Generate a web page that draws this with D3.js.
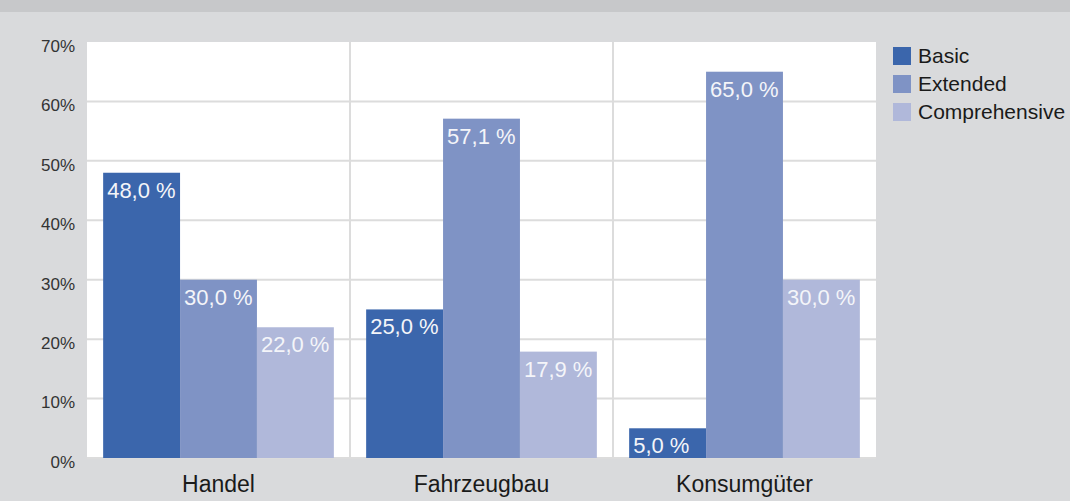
<!DOCTYPE html>
<html>
<head>
<meta charset="utf-8">
<script src="https://cdn.jsdelivr.net/npm/d3@7"></script>
<style>
  body { margin: 0; background: #d9dadc; }
  svg { display: block; font-family: "Liberation Sans", Arial, sans-serif; }
</style>
</head>
<body>
<script>
// Data
const categories = ["Handel", "Fahrzeugbau", "Konsumgüter"];
const series = ["Basic", "Extended", "Comprehensive"];
const basic = [48.0, 25.0, 5.0];
const extended = [30.0, 57.1, 65.0];
const comprehensive = [22.0, 17.9, 30.0];
const yTicks = [0, 10, 20, 30, 40, 50, 60, 70];
const colors = ["#3b66ac", "#7f93c5", "#b0b8da"];

const values = [basic, extended, comprehensive];
const data = categories.map((c, i) => ({
  cat: c,
  vals: series.map((s, j) => ({ key: s, value: values[j][i] }))
}));

const width = 1070;
const height = 501;
const marginTop = 42;
const marginRight = 194;
const marginBottom = 43;
const marginLeft = 87;

const x = d3.scaleBand()
    .domain(categories)
    .range([marginLeft, width - marginRight])
    .paddingInner(0)
    .paddingOuter(0);

const xInner = d3.scaleBand()
    .domain(series)
    .range([0, x.bandwidth()])
    .paddingOuter(0.21)
    .paddingInner(0);

const y = d3.scaleLinear()
    .domain([0, 70])
    .range([height - marginBottom, marginTop]);

const color = d3.scaleOrdinal().domain(series).range(colors);

const svg = d3.create("svg")
    .attr("width", width)
    .attr("height", height);

// background + top band
svg.append("rect").attr("width", width).attr("height", height).attr("fill", "#d9dadc");
svg.append("rect").attr("width", width).attr("height", 12).attr("fill", "#c7c8ca");

// plot area
svg.append("rect")
    .attr("x", marginLeft)
    .attr("y", marginTop)
    .attr("width", width - marginRight - marginLeft)
    .attr("height", height - marginBottom - marginTop)
    .attr("fill", "#fff");

// horizontal grid
svg.append("g")
  .selectAll("line")
  .data(yTicks.slice(0, -1))
  .join("line")
    .attr("x1", marginLeft)
    .attr("x2", width - marginRight)
    .attr("y1", d => y(d))
    .attr("y2", d => y(d))
    .attr("stroke", "#dcdcdc")
    .attr("stroke-width", 2);

// vertical separators between categories
svg.append("g")
  .selectAll("line")
  .data(categories.slice(1))
  .join("line")
    .attr("x1", d => x(d))
    .attr("x2", d => x(d))
    .attr("y1", marginTop)
    .attr("y2", height - marginBottom)
    .attr("stroke", "#dcdcdc")
    .attr("stroke-width", 2);

// y-axis labels
svg.append("g")
    .attr("transform", `translate(${marginLeft - 12},0)`)
    .call(d3.axisLeft(y).tickValues(yTicks).tickSize(0).tickPadding(0).tickFormat(d => d + "%"))
    .call(g => g.select(".domain").remove())
    .call(g => g.selectAll("text")
        .attr("dy", "0.55em")
        .attr("font-size", 17)
        .attr("fill", "#333")
        .attr("font-family", "Liberation Sans, Arial, sans-serif"));

// bars
const groups = svg.append("g")
  .selectAll("g")
  .data(data)
  .join("g")
    .attr("transform", d => `translate(${x(d.cat)},0)`);

groups.selectAll("rect")
  .data(d => d.vals)
  .join("rect")
    .attr("x", d => xInner(d.key))
    .attr("y", d => y(d.value))
    .attr("width", xInner.bandwidth())
    .attr("height", d => y(0) - y(d.value))
    .attr("fill", d => color(d.key));

groups.selectAll("text")
  .data(d => d.vals)
  .join("text")
    .attr("x", d => xInner(d.key) + 4)
    .attr("y", d => y(d.value) + 25)
    .attr("font-size", 22)
    .attr("fill", "#f4f5f9")
    .text(d => d3.format(".1f")(d.value).replace(".", ",") + " %");

// x-axis labels
svg.append("g")
    .attr("transform", `translate(0,${height - marginBottom})`)
    .call(d3.axisBottom(x).tickSize(0).tickPadding(0))
    .call(g => g.select(".domain").remove())
    .call(g => g.selectAll("text")
        .attr("y", 34)
        .attr("dy", 0)
        .attr("font-size", 23)
        .attr("fill", "#1a1a1a")
        .attr("font-family", "Liberation Sans, Arial, sans-serif"));

// legend
const legend = svg.append("g")
    .attr("transform", "translate(893,47)");

const item = legend.selectAll("g")
  .data(series)
  .join("g")
    .attr("transform", (d, i) => `translate(0,${i * 28})`);

item.append("rect")
    .attr("width", 18)
    .attr("height", 18)
    .attr("fill", d => color(d));

item.append("text")
    .attr("x", 25)
    .attr("y", 16)
    .attr("font-size", 21)
    .attr("fill", "#1a1a1a")
    .text(d => d);

document.body.append(svg.node());
</script>
</body>
</html>
